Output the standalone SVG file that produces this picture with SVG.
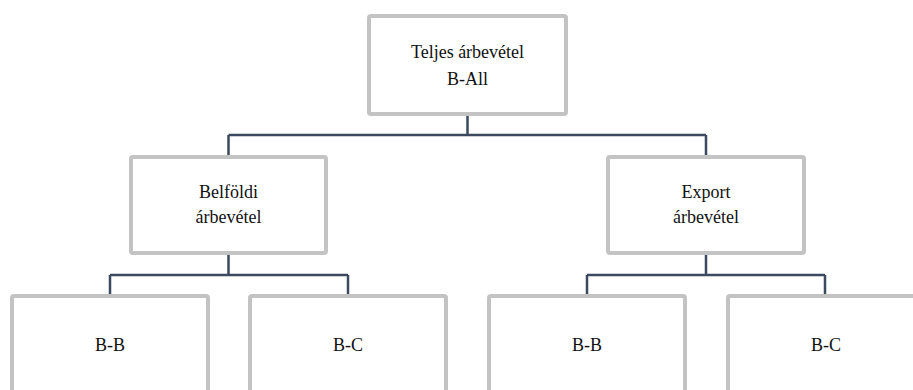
<svg xmlns="http://www.w3.org/2000/svg" width="913" height="390" viewBox="0 0 913 390">
  <style>
    .box { fill: #ffffff; stroke: #c3c3c3; stroke-width: 4; }
    .lbl { font-family: "Liberation Serif", "Times New Roman", serif; font-size: 18px; fill: #111111; text-anchor: middle; }
    .wire { fill: none; stroke: #3b4a5e; stroke-width: 2.5; }
  </style>
  <rect width="913" height="390" fill="#ffffff"/>

  <g id="connectors">
    <path class="wire" d="M467.5 114 V135 M228.5 135 H706 M228.5 135 V157 M706 135 V157"/>
    <path class="wire" d="M228.5 253 V275 M110 275 H348 M110 275 V296 M348 275 V296"/>
    <path class="wire" d="M706 253 V275 M587 275 H825 M587 275 V296 M825 275 V296"/>
  </g>

  <g id="total">
    <rect class="box" x="369" y="16" width="197" height="98" rx="2"/>
    <text class="lbl" x="467.5" y="58">Teljes árbevétel</text>
    <text class="lbl" x="467.5" y="85">B-All</text>
  </g>

  <g id="domestic">
    <rect class="box" x="131" y="157" width="195" height="96" rx="2"/>
    <text class="lbl" x="228.5" y="198">Belföldi</text>
    <text class="lbl" x="228.5" y="223">árbevétel</text>
  </g>

  <g id="export">
    <rect class="box" x="608" y="157" width="196" height="96" rx="2"/>
    <text class="lbl" x="706" y="198">Export</text>
    <text class="lbl" x="706" y="223">árbevétel</text>
  </g>

  <g id="domestic-bb">
    <rect class="box" x="12" y="296" width="196" height="130" rx="2"/>
    <text class="lbl" x="110" y="351">B-B</text>
  </g>
  <g id="domestic-bc">
    <rect class="box" x="250" y="296" width="196" height="130" rx="2"/>
    <text class="lbl" x="348" y="351">B-C</text>
  </g>
  <g id="export-bb">
    <rect class="box" x="489" y="296" width="196" height="130" rx="2"/>
    <text class="lbl" x="587" y="351">B-B</text>
  </g>
  <g id="export-bc">
    <rect class="box" x="728" y="296" width="196" height="130" rx="2"/>
    <text class="lbl" x="826" y="351">B-C</text>
  </g>
</svg>
